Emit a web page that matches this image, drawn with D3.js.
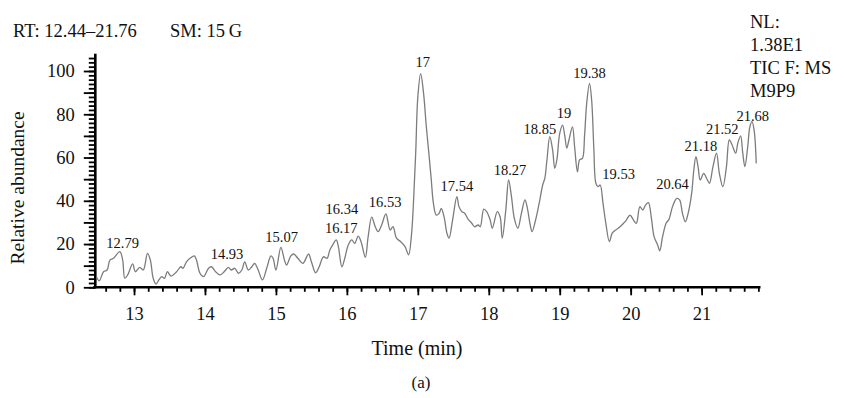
<!DOCTYPE html>
<html>
<head>
<meta charset="utf-8">
<script src="https://cdn.jsdelivr.net/npm/d3@7/dist/d3.min.js"></script>
<style>
  body { margin: 0; background: #fff; }
  text { font-family: "Liberation Serif", "DejaVu Serif", serif; fill: #111; }
</style>
</head>
<body>
<svg id="chart" width="849" height="398"></svg>
<script>
// retention time (min) and relative abundance
const times = [
  12.47, 12.51, 12.57, 12.62, 12.66, 12.71, 12.80, 12.84, 12.87, 12.91, 12.98, 13.02, 13.08, 13.13,
  13.19, 13.23, 13.27, 13.31, 13.35, 13.39, 13.43, 13.47, 13.52, 13.60, 13.66, 13.69, 13.74, 13.79,
  13.85, 13.88, 13.93, 13.98, 14.05, 14.09, 14.15, 14.21, 14.27, 14.33, 14.37, 14.42, 14.47, 14.52,
  14.56, 14.61, 14.66, 14.70, 14.75, 14.81, 14.87, 14.93, 14.96, 15.00, 15.07, 15.12, 15.15, 15.21,
  15.25, 15.31, 15.38, 15.46, 15.50, 15.56, 15.61, 15.67, 15.72, 15.76, 15.80, 15.85, 15.88, 15.93,
  15.97, 16.02, 16.07, 16.11, 16.16, 16.20, 16.26, 16.30, 16.35, 16.40, 16.44, 16.49, 16.55, 16.61,
  16.65, 16.70, 16.76, 16.82, 16.87, 16.91, 16.94, 16.97, 17.00, 17.04, 17.08, 17.12, 17.16, 17.19,
  17.22, 17.26, 17.30, 17.33, 17.37, 17.41, 17.44, 17.49, 17.55, 17.58, 17.62, 17.66, 17.71, 17.76,
  17.80, 17.85, 17.88, 17.93, 17.97, 18.02, 18.05, 18.12, 18.16, 18.19, 18.24, 18.28, 18.32, 18.36,
  18.41, 18.46, 18.51, 18.54, 18.58, 18.61, 18.66, 18.71, 18.76, 18.79, 18.82, 18.86, 18.90, 18.93,
  18.96, 19.00, 19.04, 19.07, 19.10, 19.13, 19.18, 19.21, 19.25, 19.28, 19.32, 19.35, 19.38, 19.42,
  19.45, 19.48, 19.51, 19.54, 19.57, 19.61, 19.65, 19.70, 19.74, 19.79, 19.85, 19.90, 19.94, 19.99,
  20.04, 20.08, 20.13, 20.17, 20.21, 20.25, 20.29, 20.33, 20.38, 20.41, 20.45, 20.50, 20.54, 20.59,
  20.65, 20.69, 20.73, 20.77, 20.81, 20.86, 20.89, 20.92, 20.95, 20.98, 21.03, 21.07, 21.11, 21.16,
  21.21, 21.25, 21.30, 21.35, 21.39, 21.43, 21.48, 21.51, 21.55, 21.58, 21.61, 21.65, 21.68, 21.71,
  21.74, 21.77
];
const abundance = [
  4.9, 3.0, 7.2, 8.0, 12.6, 13.4, 16.5, 12.6, 4.2, 5.7, 10.8, 7.2, 9.2, 8.0,
  15.7, 12.6, 4.2, 1.5, 3.4, 4.9, 4.2, 7.2, 5.2, 7.2, 9.5, 8.8, 11.8, 13.4,
  14.5, 12.6, 6.5, 4.9, 8.8, 9.5, 7.2, 5.7, 7.2, 9.2, 8.0, 8.8, 6.5, 8.0,
  11.8, 8.0, 9.5, 11.1, 8.0, 3.4, 8.8, 14.5, 13.4, 8.0, 18.5, 12.6, 10.3, 14.5,
  15.4, 13.4, 11.1, 15.4, 11.8, 6.7, 9.5, 14.1, 13.4, 17.2, 19.6, 21.9, 18.8, 9.5,
  13.4, 19.6, 21.9, 20.3, 23.7, 21.1, 13.9, 23.4, 32.4, 28.0, 25.7, 28.8, 33.9, 26.5,
  28.0, 22.7, 21.1, 18.8, 15.0, 24.0, 40.0, 62.0, 88.0, 98.8, 90.0, 74.2, 60.4, 49.6,
  38.8, 33.4, 34.2, 36.5, 32.6, 25.0, 22.7, 31.1, 41.9, 37.3, 35.0, 34.2, 31.4, 29.6,
  28.0, 28.8, 28.0, 36.1, 35.0, 31.1, 27.3, 35.0, 32.6, 22.7, 35.7, 49.6, 41.9, 31.9,
  27.3, 34.2, 40.4, 37.3, 29.6, 25.7, 31.1, 38.8, 47.3, 50.4, 58.9, 69.6, 63.5, 55.0,
  58.9, 71.2, 75.0, 70.4, 64.3, 68.1, 74.2, 65.0, 53.4, 58.9, 59.6, 70.0, 85.0, 94.3,
  86.6, 65.0, 48.1, 46.5, 47.3, 38.8, 29.6, 21.1, 25.0, 26.5, 28.0, 29.6, 31.1, 33.4,
  31.1, 29.6, 37.3, 35.7, 38.0, 39.1, 32.6, 23.4, 19.6, 16.9, 23.4, 29.6, 31.4, 37.3,
  41.1, 40.4, 34.2, 30.3, 34.2, 43.5, 54.2, 60.4, 55.8, 49.6, 52.7, 50.4, 48.1, 55.8,
  62.0, 52.7, 46.5, 55.8, 68.1, 65.8, 62.0, 66.6, 70.0, 62.0, 55.8, 65.0, 74.2, 76.6,
  72.7, 57.3
];

// peak annotations: text, and where its text sits (time, abundance of baseline)
const peakLabels = ["12.79", "14.93", "15.07", "16.17", "16.34", "16.53", "17", "17.54", "18.27",
  "18.85", "19", "19.38", "19.53", "20.64", "21.18", "21.52", "21.68"];
const peakLabelTime = [12.84, 14.31, 15.08, 15.92, 15.93, 16.54, 17.07, 17.55, 18.30,
  18.72, 19.06, 19.42, 19.83, 20.59, 20.99, 21.29, 21.72];
const peakLabelLevel = [18.3, 12.9, 21.1, 25.0, 33.7, 37.0, 101.7, 44.7, 51.9,
  70.9, 78.1, 96.6, 49.9, 45.3, 63.2, 70.9, 76.7];

const xMajor = [13, 14, 15, 16, 17, 18, 19, 20, 21];
const xMinor = d3.range(63, 110).map(d => d / 5);
const yLabelled = [0, 20, 40, 60, 80, 100];
const yMajor = d3.range(0, 101, 10);
const yMinor = d3.range(0, 108, 2);
const infoLines = ["NL:", "1.38E1", "TIC F: MS", "M9P9"];

const svg = d3.select("#chart");

const x = d3.scaleLinear().domain([12.44, 21.83]).range([94.3, 760.5]);
const y = d3.scaleLinear().domain([0, 108]).range([287.3, 53.7]);

// x axis
const xMinorAxis = svg.append("g")
  .attr("transform", `translate(0,${y(0)})`)
  .call(d3.axisBottom(x).tickValues(xMinor).tickSize(4.5).tickSizeOuter(0).tickFormat(""));
xMinorAxis.select(".domain").attr("stroke-width", 2.6).attr("d", `M${x.range()[0] - 1},0H${x.range()[1]}`);
xMinorAxis.selectAll(".tick line").attr("stroke-width", 1.8);

const xMajorAxis = svg.append("g")
  .attr("transform", `translate(0,${y(0)})`)
  .call(d3.axisBottom(x).tickValues(xMajor).tickSize(8).tickPadding(12).tickFormat(d3.format("d")));
xMajorAxis.select(".domain").remove();
xMajorAxis.selectAll(".tick line").attr("stroke-width", 1.8);
xMajorAxis.selectAll(".tick text").attr("font-size", 18.5).attr("font-family", "Liberation Serif").attr("fill", "#111");

// y axis
const yMinorAxis = svg.append("g")
  .attr("transform", `translate(${x.range()[0] + 1},0)`)
  .call(d3.axisLeft(y).tickValues(yMinor).tickSize(6.5).tickSizeOuter(0).tickFormat(""));
yMinorAxis.select(".domain").attr("stroke-width", 2.6).attr("d", `M0,${y(0) + 1}V${y.range()[1]}`);
yMinorAxis.selectAll(".tick line").attr("stroke-width", 1.8);

const yMajorAxis = svg.append("g")
  .attr("transform", `translate(${x.range()[0] + 1},0)`)
  .call(d3.axisLeft(y).tickValues(yMajor).tickSize(11.5).tickPadding(9)
    .tickFormat(d => yLabelled.includes(d) ? d : ""));
yMajorAxis.select(".domain").remove();
yMajorAxis.selectAll(".tick line").attr("stroke-width", 1.8);
yMajorAxis.selectAll(".tick text").attr("font-size", 18.5).attr("font-family", "Liberation Serif").attr("fill", "#111");

// trace
const line = d3.line()
  .x((d, i) => x(times[i]))
  .y(d => y(d))
  .curve(d3.curveCatmullRom.alpha(0.5));

svg.append("path")
  .datum(abundance)
  .attr("fill", "none")
  .attr("stroke", "#7c7c7c")
  .attr("stroke-width", 1.3)
  .attr("d", line);

// peak labels
svg.append("g")
  .attr("text-anchor", "middle")
  .attr("font-size", 14.5)
  .selectAll("text")
  .data(peakLabels)
  .join("text")
  .attr("x", (d, i) => x(peakLabelTime[i]))
  .attr("y", (d, i) => y(peakLabelLevel[i]))
  .text(d => d);

// titles
svg.append("text")
  .attr("x", 417).attr("y", 355)
  .attr("text-anchor", "middle").attr("font-size", 20)
  .text("Time (min)");

svg.append("text")
  .attr("transform", "translate(24,188) rotate(-90)")
  .attr("text-anchor", "middle").attr("font-size", 19.5)
  .text("Relative abundance");

svg.append("text")
  .attr("x", 421).attr("y", 388)
  .attr("text-anchor", "middle").attr("font-size", 17)
  .text("(a)");

// header
svg.append("text").attr("x", 13).attr("y", 37).attr("font-size", 18.5).text("RT: 12.44–21.76");
svg.append("text").attr("x", 170).attr("y", 37).attr("font-size", 18.5).text("SM: 15\u2009G");

svg.append("g")
  .attr("font-size", 18.5)
  .selectAll("text")
  .data(infoLines)
  .join("text")
  .attr("x", 750)
  .attr("y", (d, i) => 27.5 + i * 23)
  .text(d => d);
</script>
</body>
</html>
